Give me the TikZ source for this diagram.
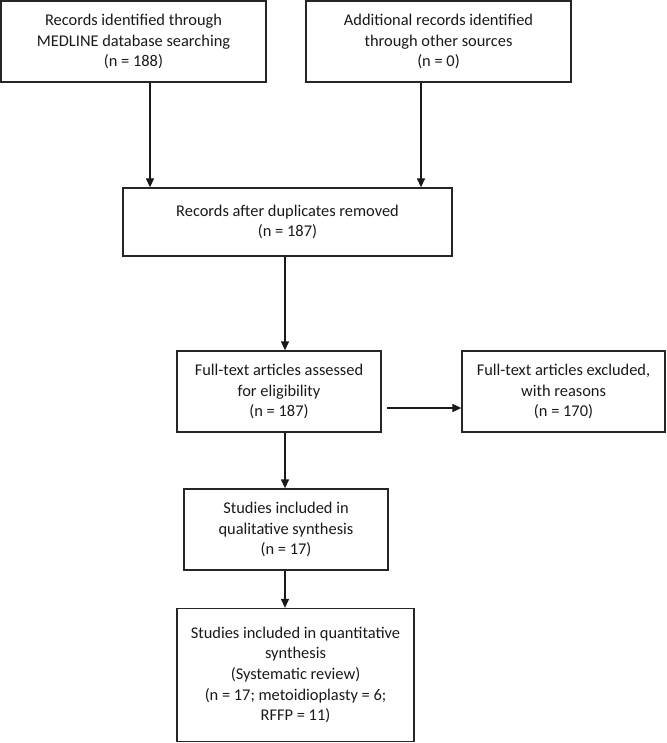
\documentclass[tikz,border=0pt]{standalone}
\usepackage{fontspec}
\setmainfont{Carlito}
\usetikzlibrary{arrows.meta}
\begin{document}
\begin{tikzpicture}[x=1pt,y=-1pt,
  box/.style={draw=black!85, line width=1.3pt, rectangle, inner sep=0pt, align=center,
     font=\fontsize{16.4}{20.7}\selectfont, text=black!90},
  arr/.style={draw=black!90, line width=1.3pt, -{Triangle[width=8pt,length=9pt]}}]
\useasboundingbox (0,0) rectangle (666,743);
\node[box, minimum width=265pt, minimum height=81pt] (b1) at (133.5,41.5)
  {Records identified through\\MEDLINE database searching\\(n = 188)};
\node[box, minimum width=265pt, minimum height=81pt] (b2) at (438.5,41.5)
  {Additional records identified\\through other sources\\(n = 0)};
\node[box, minimum width=329pt, minimum height=68pt] (b3) at (287.5,222)
  {Records after duplicates removed\\(n = 187)};
\node[box, minimum width=204pt, minimum height=81pt] (b4) at (279,391.5)
  {Full-text articles assessed\\for eligibility\\(n = 187)};
\node[box, minimum width=203pt, minimum height=81pt] (b5) at (563.5,391.5)
  {Full-text articles excluded,\\with reasons\\(n = 170)};
\node[box, minimum width=204pt, minimum height=81pt] (b6) at (286,529.5)
  {Studies included in\\qualitative synthesis\\(n = 17)};
\node[box, minimum width=237pt, minimum height=133pt] (b7) at (295.5,675)
  {Studies included in quantitative\\synthesis\\(Systematic review)\\(n = 17; metoidioplasty = 6;\\RFFP = 11)};
\coordinate (xa) at (150,0);
\coordinate (xb) at (421,0);
\coordinate (xc) at (285,0);
\coordinate (hs) at (387,408);
\draw[arr] (b1.south -| xa) -- (b3.north -| xa);
\draw[arr] (b2.south -| xb) -- (b3.north -| xb);
\draw[arr] (b3.south -| xc) -- (b4.north -| xc);
\draw[arr] (b4.south -| xc) -- (b6.north -| xc);
\draw[arr] (b6.south -| xc) -- (b7.north -| xc);
\draw[arr] (hs) -- (b5.west |- hs);
\end{tikzpicture}
\end{document}
